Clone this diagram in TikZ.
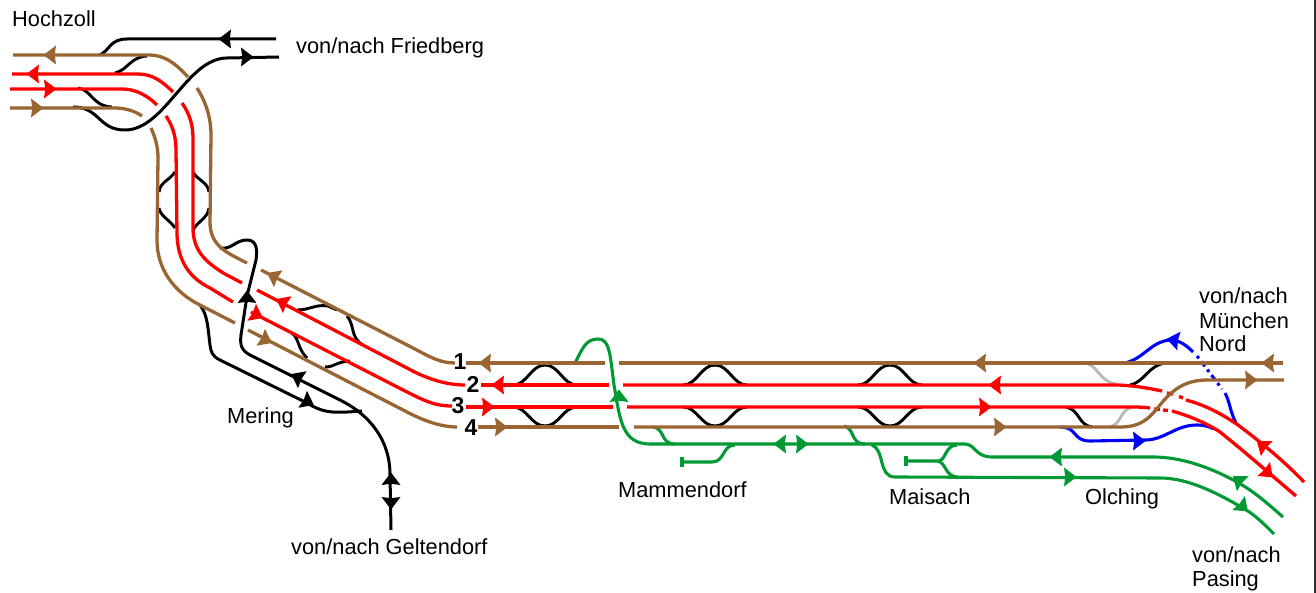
\documentclass[tikz,border=0pt]{standalone}
\usepackage{fontspec}
\setmainfont{Liberation Sans}
\definecolor{trbrown}{RGB}{153,102,51}
\definecolor{trred}{RGB}{255,0,0}
\definecolor{trgreen}{RGB}{0,153,51}
\definecolor{trblue}{RGB}{0,0,255}
\definecolor{trgray}{RGB}{184,184,184}
\tikzset{
 br/.style={draw=trbrown,line width=3.3pt},
 rd/.style={draw=trred,line width=3.3pt},
 bk/.style={draw=black,line width=3pt},
 bkt/.style={draw=black,line width=2.9pt},
 gy/.style={draw=trgray,line width=2.9pt},
 gn/.style={draw=trgreen,line width=3.1pt},
 bl/.style={draw=trblue,line width=3.1pt},
 lab/.style={anchor=base west,inner sep=0pt,font=\fontsize{21.8}{25}\selectfont,text=black},
 num/.style={inner sep=0pt,font=\bfseries\fontsize{23}{25}\selectfont,text=black},
 arwshape/.pic={\path[pic actions] (6.5,0) -- (-6,9.5) -- (-4.8,0) -- (-6,-9.5) -- cycle;}
}
\newcommand{\arw}[4]{\fill[#4] (#1,#2) ++(0,0) pic[rotate=#3,fill=#4] {arwshape};}
\newcommand{\hump}[3]{% x-centre, track y, hump y
 \draw[bkt] (#1-32,#2) .. controls (#1-18,#2) and (#1-14,#3) .. (#1,#3) .. controls (#1+14,#3) and (#1+18,#2) .. (#1+32,#2);}
\begin{document}
\begin{tikzpicture}[x=1pt,y=-1pt]
\useasboundingbox (0,0) rectangle (1316,593);
\draw[draw=black!80,line width=1.2pt] (1315,0) -- (1315,593);
% --- black connecting tracks and crossovers
\draw[bk] (100,55) .. controls (110,50) and (110,39) .. (127,39) -- (276,39);
\draw[bk] (73,107) .. controls (100,107) and (98,130) .. (125,130) .. controls (165,130) and (187,58) .. (227,58) -- (279,57);
\draw[bkt] (115,73) .. controls (128,70) and (130,57) .. (147,56);
\draw[bkt] (78,88) .. controls (92,90) and (92,106) .. (112,107);
\draw[bkt] (175,172) .. controls (170,180) and (160,182) .. (159,192);
\draw[bkt] (159,208) .. controls (160,216) and (170,220) .. (175,228);
\draw[bkt] (193,172) .. controls (197,180) and (208,182) .. (209,192);
\draw[bkt] (209,208) .. controls (208,218) and (197,222) .. (193,230);
\draw[bk] (220,248) .. controls (232,250) and (235,240) .. (247,240) .. controls (258,240) and (257,252) .. (256,260) -- (247,296) -- (241,335) .. controls (240,345) and (241,350) .. (250,355) -- (340,400) .. controls (370,415) and (390,440) .. (390,475) -- (391,530);
\draw[bk] (200,305) .. controls (208,315) and (208,330) .. (210,345) .. controls (211,352) and (212,356) .. (220,360) -- (307,403) .. controls (325,414) and (335,413) .. (362,411);
\draw[bkt] (297,310) .. controls (310,310) and (315,304) .. (328,306) -- (337,310);
\draw[bkt] (347,316) .. controls (355,325) and (350,338) .. (363,345);
\draw[bkt] (292,333) .. controls (300,340) and (297,348) .. (307,358);
\draw[bkt] (325,367) .. controls (335,367) and (335,362) .. (350,361);
\hump{545}{385}{365}\hump{545}{407}{426}
\hump{715}{385}{365}\hump{715}{407}{426}
\hump{890}{385}{365}\hump{890}{407}{426}
\draw[gy] (1086,363) .. controls (1098,366) and (1100,382) .. (1116,384);
\draw[gy] (1110,427) .. controls (1122,424) and (1120,408) .. (1134,407);
\draw[bkt] (1130,385) .. controls (1145,382) and (1148,365) .. (1166,363);
\draw[bkt] (1066,407) .. controls (1080,410) and (1078,425) .. (1092,427);
% --- green
\draw[gn] (575,363) .. controls (582,350) and (585,339) .. (598,339) .. controls (610,339) and (610,355) .. (614,385) .. controls (620,420) and (622,444) .. (650,444) -- (965,444) .. controls (975,444) and (975,457) .. (992,457) -- (1153,457) .. controls (1185,457) and (1215,470) .. (1237,482) .. controls (1255,492) and (1268,504) .. (1283,517);
\draw[gn] (653,427) .. controls (665,428) and (660,444) .. (675,444);
\draw[gn] (844,426) .. controls (855,428) and (850,444) .. (865,444);
\draw[gn] (682,462) -- (712,462) .. controls (725,462) and (722,445) .. (735,445);
\draw[gn] (682,457) -- (682,467);
\draw[gn] (872,445) .. controls (885,450) and (878,477) .. (895,477) -- (1160,478) .. controls (1190,478) and (1220,495) .. (1243,508) .. controls (1255,515) and (1263,523) .. (1274,534);
\draw[gn] (906,456) -- (906,466);
\draw[gn] (906,461) -- (938,461) .. controls (946,461) and (945,445) .. (957,445);
\draw[gn] (938,461) .. controls (946,463) and (945,476) .. (957,477);
% --- blue
\draw[bl] (1125,363) .. controls (1145,358) and (1150,342) .. (1170,340) .. controls (1180,340) and (1187,346) .. (1193,352);
\draw[bl,dash pattern=on 3pt off 4pt on 6pt off 4pt] (1197,356) -- (1222,389);
\draw[bl] (1225,393) .. controls (1230,402) and (1230,412) .. (1236,423);
\draw[bl] (1060,427) .. controls (1078,427) and (1072,441) .. (1090,441) -- (1145,440) .. controls (1165,440) and (1175,425) .. (1197,425) .. controls (1203,425) and (1208,426) .. (1214,429);
% --- red
\draw[rd] (12,74) -- (138,74) .. controls (152,74) and (162,81) .. (173,92);
\draw[rd] (182,103) .. controls (189,113) and (193,124) .. (193,138) -- (193,228) .. controls (193,250) and (205,262) .. (225,274) -- (242,283);
\draw[rd] (257,290) -- (407,368) .. controls (425,378) and (445,385) .. (465,385);
\draw[rd] (481,385) -- (609,385);
\draw[rd] (623,385) -- (1115,385) .. controls (1130,385) and (1148,388) .. (1162,391);
\draw[rd] (1167,393) -- (1173,394);
\draw[rd] (1179,396.5) -- (1183,398);
\draw[rd] (1186,400) .. controls (1205,405) and (1222,414) .. (1238,425) .. controls (1262,443) and (1285,462) .. (1304,482);
\draw[rd] (10,89) -- (122,89) .. controls (135,89) and (147,95) .. (157,105);
\draw[rd] (166,116) .. controls (172,125) and (176,135) .. (176,150) -- (177,235) .. controls (178,262) and (190,278) .. (210,288) -- (233,302);
\draw[rd] (251,312) -- (407,392) .. controls (425,401) and (435,406) .. (452,406);
\draw[rd] (466,407) -- (613,407);
\draw[rd] (627,407) -- (1130,407) .. controls (1137,407) and (1143,407) .. (1150,408);
\draw[rd] (1154,409) -- (1160,409.5);
\draw[rd] (1163,410) -- (1168,410.5);
\draw[rd] (1172,411) .. controls (1190,416) and (1208,424) .. (1220,432) .. controls (1245,452) and (1270,474) .. (1296,496);
% --- brown
\draw[br] (13,55) -- (148,55) .. controls (165,55) and (175,63) .. (188,77);
\draw[br] (197,88) .. controls (206,102) and (211,118) .. (211,135) -- (210,222) .. controls (210,245) and (225,252) .. (247,263);
\draw[br] (261,270) -- (413,348) .. controls (430,357) and (440,363) .. (455,363);
\draw[br] (466,363) -- (605,363);
\draw[br] (619,363) -- (1283,363);
\draw[br] (10,108) -- (115,108) .. controls (125,108) and (135,111) .. (142,116);
\draw[br] (151,128) .. controls (155,137) and (158,146) .. (158,158) -- (157,240) .. controls (157,270) and (175,292) .. (198,304) -- (235,323);
\draw[br] (248,330) -- (405,411) .. controls (422,420) and (440,427) .. (457,427);
\draw[br] (478,427) -- (619,427);
\draw[br] (634,427) -- (1120,427) .. controls (1140,427) and (1148,420) .. (1160,405) .. controls (1172,390) and (1185,380) .. (1207,380) -- (1284,380);
% --- arrowheads
\arw{50}{55}{180}{trbrown}
\arw{33}{74}{180}{trred}
\arw{50}{89}{0}{trred}
\arw{37}{108}{0}{trbrown}
\arw{225}{39}{180}{black}
\arw{247}{57}{0}{black}
\arw{247}{297}{90}{black}
\arw{297}{377}{153}{black}
\arw{308}{402}{-27}{black}
\arw{391}{479}{90}{black}
\arw{391}{503}{-90}{black}
\arw{273}{276}{153}{trbrown}
\arw{282}{302}{153}{trred}
\arw{257}{315}{-27}{trred}
\arw{266}{340}{-27}{trbrown}
\arw{485}{363}{180}{trbrown}
\arw{498}{385}{180}{trred}
\arw{488}{407}{0}{trred}
\arw{501}{427}{0}{trbrown}
\arw{980}{363}{180}{trbrown}
\arw{995}{385}{180}{trred}
\arw{985}{407}{0}{trred}
\arw{1000}{427}{0}{trbrown}
\arw{1268}{363}{180}{trbrown}
\arw{1251}{380}{0}{trbrown}
\arw{1173}{340}{170}{trblue}
\arw{1139}{441}{0}{trblue}
\arw{619}{396}{90}{trgreen}
\arw{780}{444}{180}{trgreen}
\arw{802}{444}{0}{trgreen}
\arw{1056}{457}{180}{trgreen}
\arw{1070}{477}{0}{trgreen}
\arw{1238}{480}{142}{trgreen}
\arw{1243}{507}{-42}{trgreen}
\arw{1262}{445}{142}{trred}
\arw{1268}{473}{-42}{trred}
% --- labels
\node[lab] (hochzoll) at (12,27) {Hochzoll};
\node[lab] (friedberg) at (296,54) {von/nach Friedberg};
\node[lab] (geltendorf) at (291,554) {von/nach Geltendorf};
\node[lab] (mering) at (227,423) {Mering};
\node[lab] (mammendorf) at (618,497) {Mammendorf};
\node[lab] (maisach) at (889,504) {Maisach};
\node[lab] (olching) at (1085,504) {Olching};
\node[lab] (muenchenA) at (1199,304) {von/nach};
\node[lab] (muenchenB) at (1199,328) {München};
\node[lab] (muenchenC) at (1199,352) {Nord};
\node[lab] (pasingA) at (1192,562) {von/nach};
\node[lab] (pasingB) at (1192,586) {Pasing};
\node[num] (n1) at (460,362) {1};
\node[num] (n2) at (473,384) {2};
\node[num] (n3) at (458,406) {3};
\node[num] (n4) at (471,428) {4};
\end{tikzpicture}
\end{document}
